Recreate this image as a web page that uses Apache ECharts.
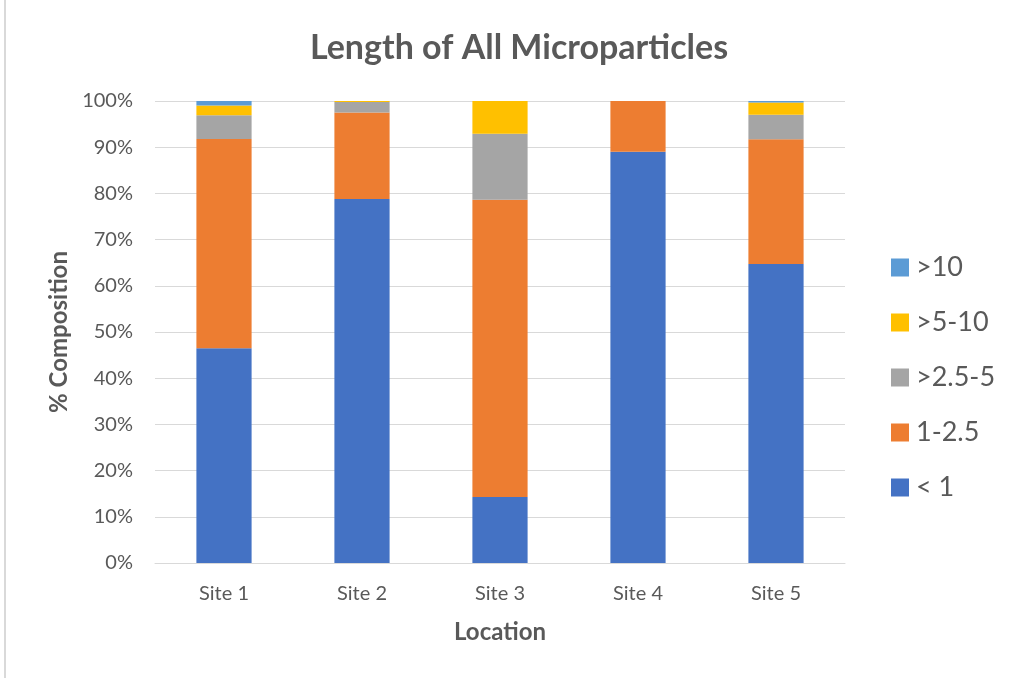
<!DOCTYPE html>
<html>
<head>
<meta charset="utf-8">
<script src="https://cdn.jsdelivr.net/npm/echarts@6/dist/echarts.min.js"></script>
<style>
html,body{margin:0;padding:0;background:#fff;}
#c{width:1012px;height:678px;}
</style>
</head>
<body>
<div id="c"></div>
<script>
const categories = ['Site 1', 'Site 2', 'Site 3', 'Site 4', 'Site 5'];
const seriesNames = ['< 1', '1-2.5', '>2.5-5', '>5-10', '>10'];
const lt1 = [46.5, 78.8, 14.3, 89.0, 64.7];
const s1to2_5 = [45.3, 18.7, 64.3, 11.0, 27.0];
const s2_5to5 = [5.1, 2.3, 14.3, 0, 5.3];
const s5to10 = [2.1, 0.2, 7.1, 0, 2.7];
const gt10 = [1.0, 0, 0, 0, 0.3];
const yTicks = [0, 10, 20, 30, 40, 50, 60, 70, 80, 90, 100];

const colors = ['#4472C4', '#ED7D31', '#A5A5A5', '#FFC000', '#5B9BD5'];
const values = [lt1, s1to2_5, s2_5to5, s5to10, gt10];
const font = 'Lato, "Open Sans", sans-serif';
const txt = '#595959';

const chart = echarts.init(document.getElementById('c'), null, {renderer: 'canvas'});
chart.setOption({
  animation: false,
  textStyle: {fontFamily: font},
  title: {
    text: 'Length of All Microparticles',
    left: 514, top: 26, textAlign: 'center',
    textStyle: {fontSize: 34, fontWeight: 'bold', color: txt, fontFamily: font}
  },
  graphic: [{
    type: 'rect',
    shape: {x: 4, y: -2, width: 2, height: 680},
    style: {fill: '#D9D9D9'},
    silent: true
  }],
  grid: {left: 155, right: 167, top: 101, bottom: 115, containLabel: false},
  legend: {
    orient: 'vertical',
    left: 886, top: 249,
    itemWidth: 18, itemHeight: 18, itemGap: 28,
    icon: 'rect',
    data: seriesNames.slice().reverse(),
    textStyle: {fontSize: 27, color: txt, fontFamily: font, padding: [0,0,0,2]}
  },
  xAxis: {
    type: 'category',
    data: categories,
    name: 'Location',
    nameLocation: 'middle',
    nameGap: 57,
    nameTextStyle: {fontSize: 24, fontWeight: 'bold', color: txt, fontFamily: font},
    axisLine: {lineStyle: {color: '#D9D9D9'}},
    axisTick: {show: false},
    axisLabel: {fontSize: 20, color: txt, margin: 21, fontFamily: font}
  },
  yAxis: {
    type: 'value',
    min: yTicks[0], max: yTicks[yTicks.length - 1], interval: 10,
    name: '% Composition',
    nameLocation: 'middle',
    nameGap: 83,
    nameTextStyle: {fontSize: 24, fontWeight: 'bold', color: txt, fontFamily: font},
    axisLine: {show: false},
    axisTick: {show: false},
    splitLine: {lineStyle: {color: '#D9D9D9', width: 1}},
    axisLabel: {fontSize: 20, color: txt, margin: 22, formatter: '{value}%', fontFamily: font}
  },
  series: seriesNames.map((n, i) => ({
    name: n,
    type: 'bar',
    stack: 'total',
    barWidth: '40%',
    itemStyle: {color: colors[i]},
    data: values[i]
  }))
});
</script>
</body>
</html>
